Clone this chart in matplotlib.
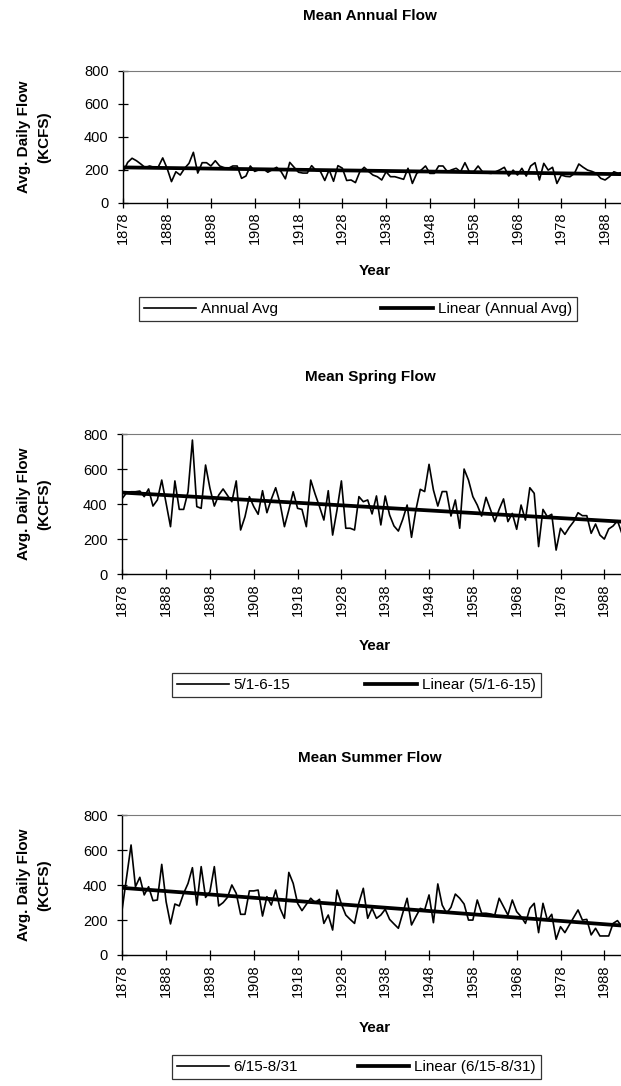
import numpy as np
import matplotlib
matplotlib.use('Agg')
import matplotlib.pyplot as plt

plt.rcParams['font.family'] = ['Liberation Sans', 'DejaVu Sans']

# ---- data (KCFS) ----
first_year, last_year = 1878, 1992
years = np.arange(first_year, last_year + 1)

annual_avg = [
    188, 245, 270, 255, 235, 213, 223, 215, 218, 272,   # 1878-1887
    209, 128, 188, 168, 209, 239, 306, 180, 243, 243,   # 1888-1897
    223, 255, 223, 213, 209, 223, 223, 148, 162, 223,   # 1898-1907
    190, 200, 205, 185, 200, 215, 190, 145, 245, 215,   # 1908-1917
    185, 180, 180, 225, 195, 190, 135, 200, 130, 225,   # 1918-1927
    210, 135, 138, 122, 188, 215, 190, 168, 158, 138,   # 1928-1937
    188, 158, 158, 150, 142, 209, 117, 178, 198, 223,   # 1938-1947
    178, 178, 223, 223, 188, 200, 209, 188, 243, 188,   # 1948-1957
    188, 223, 188, 180, 178, 188, 200, 215, 162, 198,   # 1958-1967
    168, 209, 162, 223, 243, 138, 239, 198, 215, 117,   # 1968-1977
    168, 160, 158, 178, 235, 215, 198, 190, 178, 148,   # 1978-1987
    138, 158, 188, 178, 185,                            # 1988-1992
]

spring_flow = [
    433, 466, 471, 471, 475, 443, 487, 389, 424, 538,
    405, 271, 533, 370, 370, 471, 767, 386, 376, 624,
    491, 389, 452, 487, 450, 414, 533, 252, 328, 443,
    386, 342, 477, 351, 428, 494, 405, 271, 367, 471,
    376, 370, 271, 538, 458, 386, 309, 477, 223, 367,
    533, 262, 262, 252, 443, 414, 424, 344, 447, 281,
    447, 338, 275, 246, 313, 395, 210, 367, 485, 472,
    628, 481, 389, 472, 472, 332, 424, 262, 601, 538,
    443, 395, 332, 439, 370, 300, 370, 430, 300, 347,
    256, 395, 309, 494, 462, 157, 370, 328, 342, 137,
    262, 227, 267, 300, 351, 334, 334, 233, 286, 223,
    200, 258, 275, 305, 233,
]

summer_flow = [
    267, 449, 630, 391, 445, 344, 391, 311, 315, 519,
    305, 178, 292, 281, 353, 410, 500, 286, 506, 330,
    363, 506, 281, 300, 330, 401, 353, 233, 233, 367,
    367, 372, 223, 334, 286, 372, 267, 210, 473, 410,
    296, 254, 290, 325, 300, 319, 181, 229, 143, 372,
    292, 229, 204, 181, 300, 382, 210, 267, 210, 229,
    262, 204, 178, 153, 240, 325, 172, 220, 267, 258,
    344, 185, 407, 286, 239, 273, 349, 325, 292, 200,
    200, 315, 239, 239, 235, 229, 325, 277, 229, 315,
    248, 220, 181, 267, 296, 128, 296, 200, 233, 90,
    162, 128, 172, 215, 258, 200, 204, 115, 153, 109,
    109, 109, 181, 197, 162,
]

titles = ['Mean Annual Flow', 'Mean Spring Flow', 'Mean Summer Flow']
series_labels = ['Annual Avg', '5/1-6-15', '6/15-8/31']
series_values = [annual_avg, spring_flow, summer_flow]

# ---- layout in pixels of the 621x1086 canvas ----
W, H = 621, 1086
# (axes left, axes top, axes bottom, px per year, title y, xlabel y, legend box x0, x1, y0, y1)
layout = [
    (123.3, 71.0, 202.7, 4.38, 16, 271, 139, 577, 292.7, 325),
    (122.3, 434.3, 574.0, 4.382, 377, 646, 171.7, 541, 669, 701),
    (122.3, 815.3, 955.0, 4.382, 758, 1028, 171.7, 541, 1051, 1083),
]

fig = plt.figure(figsize=(W / 100, H / 100), dpi=100)

for title, vals, lab, geo in zip(titles, series_values, series_labels, layout):
    left, top, bottom, ppy, ty, xly, lx0, lx1, ly0, ly1 = geo
    ax = fig.add_axes([left / W, 1 - bottom / H, (W - left) / W, (bottom - top) / H])
    vals = np.array(vals, dtype=float)

    ax.plot(years, vals, color='black', lw=1.2, label=lab, zorder=3)
    coef = np.polyfit(years, vals, 1)
    ax.plot(years, np.polyval(coef, years), color='black', lw=2.7,
            label='Linear (%s)' % lab, zorder=4)

    ax.set_xlim(first_year, first_year + (W - left) / ppy)
    ax.set_ylim(0, 800)
    ax.set_yticks([0, 200, 400, 600, 800])
    ax.set_xticks(np.arange(1878, 1989, 10))
    ax.tick_params(axis='x', direction='inout', length=7, width=0.9,
                   labelsize=10.5, labelrotation=90, pad=3)
    ax.tick_params(axis='y', direction='inout', length=7, width=0.9,
                   labelsize=10.5, pad=7)
    ax.spines['right'].set_visible(False)
    ax.spines['top'].set_color('#7a7a7a')
    for s in ['left', 'bottom']:
        ax.spines[s].set_linewidth(1.0)

    fig.text(370 / W, 1 - ty / H, title, ha='center', va='center',
             fontsize=11, fontweight='bold')
    fig.text(375 / W, 1 - xly / H, 'Year', ha='center', va='center',
             fontsize=11, fontweight='bold')
    fig.text(34 / W, 1 - (top + bottom) / 2 / H, 'Avg. Daily Flow\n(KCFS)',
             ha='center', va='center', rotation=90, fontsize=11,
             fontweight='bold', linespacing=1.6)

    leg = ax.legend(loc='center', ncol=2, mode='expand', fontsize=11,
                    bbox_to_anchor=(lx0 / W, 1 - ly1 / H, (lx1 - lx0) / W, (ly1 - ly0) / H),
                    bbox_transform=fig.transFigure, frameon=True, fancybox=False,
                    handlelength=3.4, handletextpad=0.3, columnspacing=1.0,
                    borderpad=0.35, borderaxespad=0)
    leg.get_frame().set_edgecolor('black')
    leg.get_frame().set_linewidth(0.9)

fig.savefig('out.png', dpi=100, facecolor='white')
